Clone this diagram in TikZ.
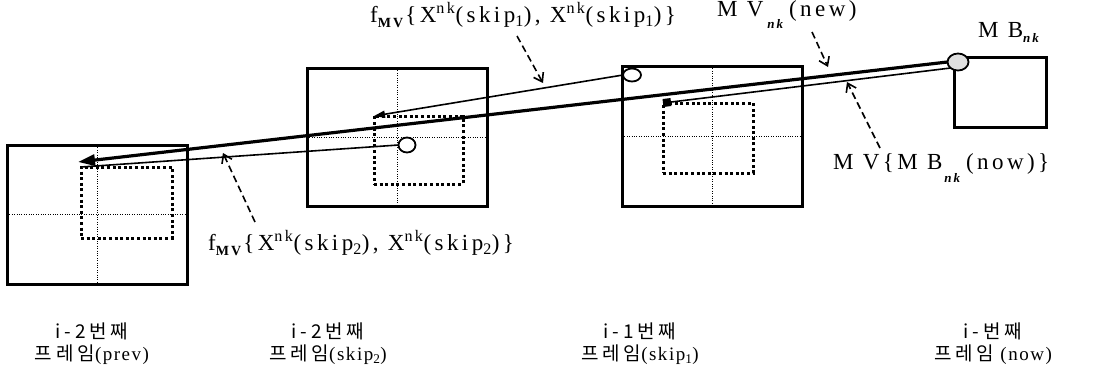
\documentclass[tikz,border=0pt]{standalone}
\usepackage{fontspec}
\setmainfont{Liberation Serif}[LetterSpace=15]
\newfontfamily\kr{Noto Sans CJK KR}[LetterSpace=20]
\newfontfamily\capfont{Liberation Serif}[LetterSpace=8]
\usetikzlibrary{shapes.geometric,arrows.meta}
\newcommand{\lowsub}[2]{\raisebox{#1}{\fontsize{13}{13}\selectfont\textbf{\textit{#2}}}}
\newcommand{\mvsub}{\raisebox{-5pt}{\fontsize{14}{14}\selectfont\textbf{MV}}}
\begin{document}
\begin{tikzpicture}[x=1pt,y=-1pt,
  frame/.style={draw,line width=3pt,inner sep=0pt,outer sep=0pt},
  inner/.style={draw,line width=3pt,dash pattern=on 3pt off 2.6pt,inner sep=0pt,outer sep=0pt},
  cross/.style={line width=1pt,dash pattern=on 1pt off 1.4pt},
  blob/.style={draw,ellipse,line width=1.8pt,inner sep=0pt,outer sep=0pt},
  mvthick/.style={line width=3.2pt,-{Triangle[length=17pt,width=11pt]}},
  mvthin/.style={line width=1.6pt,-{Triangle[length=11pt,width=7pt]}},
  pointer/.style={line width=1.6pt,dash pattern=on 7pt off 4pt,-{Straight Barb[length=8pt,width=11pt]}},
  lbl/.style={inner sep=0pt,anchor=west,font=\fontsize{23}{26}\selectfont},
  caption/.style={inner sep=0pt,align=center,font=\capfont\fontsize{19}{22}\selectfont}]
\useasboundingbox (0,0) rectangle (1108,370);
% frames
\node[frame,minimum width=180pt,minimum height=139pt] (f1) at (97,214.5) {};
\node[frame,minimum width=180pt,minimum height=138pt] (f2) at (397,137) {};
\node[frame,minimum width=180pt,minimum height=140pt] (f3) at (712,136) {};
\node[frame,minimum width=92pt,minimum height=70pt] (f4) at (1000,92) {};
% crosses
\foreach \f in {f1,f2,f3}{
  \draw[cross] (\f.north) -- (\f.south);
  \draw[cross] (\f.west) -- (\f.east);
}
% inner blocks
\node[inner,minimum width=91pt,minimum height=71pt] (in1) at (126.5,202.5) {};
\node[inner,minimum width=89pt,minimum height=68pt] (in2) at (418.5,150) {};
\node[inner,minimum width=90pt,minimum height=70pt] (in3) at (708,138) {};
% blocks (circles)
\node[blob,fill=white,minimum width=17pt,minimum height=15pt] (c2) at (407,145) {};
\node[blob,fill=white,minimum width=18pt,minimum height=13pt] (c3) at (632,75) {};
\node[blob,fill=gray!25,minimum width=21pt,minimum height=17pt] (c4) at (958,62) {};
% motion vectors
\draw[line width=1.6pt] (c2.west) -- (in1.north west);
\draw[mvthin] (c3.west) -- (in2.north west);
\draw[line width=1.6pt,-{Square[length=8pt,width=8pt]}] (c4.south west) -- (in3.north west);
\draw[mvthick] (c4.west) -- ([shift={(-3,-5)}]in1.north west);
% labels
\node[lbl] (t1) at (370,15) {f\mvsub\{X\textsuperscript{nk}(skip\textsubscript{1}), X\textsuperscript{nk}(skip\textsubscript{1})\}};
\node[lbl] (t2) at (717,15) {M V\hspace{4pt}\lowsub{-12pt}{nk}\hspace{4pt}(new)};
\node[lbl] (t3) at (978,32) {M B\lowsub{-5pt}{nk}};
\node[lbl] (t4) at (833,168) {M V\{M B\hspace{2pt}\lowsub{-13pt}{nk}\hspace{4pt}(now)\}};
\node[lbl] (t5) at (208,243) {f\mvsub\{X\textsuperscript{nk}(skip\textsubscript{2}), X\textsuperscript{nk}(skip\textsubscript{2})\}};
% pointers
\coordinate (p1s) at (517,36); \coordinate (p1e) at (543,83);
\coordinate (p2s) at (812,32); \coordinate (p2e) at (828,67);
\coordinate (p3s) at (880,148); \coordinate (p3e) at (847,82);
\coordinate (p4s) at (255,222); \coordinate (p4e) at (223,153);
\draw[pointer] (p1s) -- (p1e);
\draw[pointer] (p2s) -- (p2e);
\draw[pointer] (p3s) -- (p3e);
\draw[pointer] (p4s) -- (p4e);
% captions
\node[caption] (k1) at (92,344) {{\kr i-2번째}\\{\kr 프레임}(prev)};
\node[caption] (k2) at (328,344) {{\kr i-2번째}\\{\kr 프레임}(skip\textsubscript{2})};
\node[caption] (k3) at (640,344) {{\kr i-1번째}\\{\kr 프레임}(skip\textsubscript{1})};
\node[caption] (k4) at (993,344) {{\kr i-번째}\\{\kr 프레임} (now)};
\end{tikzpicture}
\end{document}
